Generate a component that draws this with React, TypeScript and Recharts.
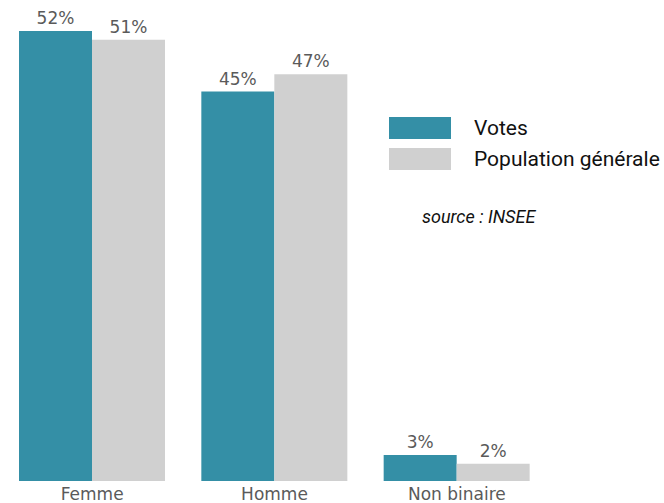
import { BarChart, Bar, XAxis, YAxis, LabelList } from 'recharts';

const categories = ['Femme', 'Homme', 'Non binaire'];
const votes = [52, 45, 3];
const population = [51, 47, 2];

const data = categories.map((name, i) => ({
  name,
  votes: votes[i],
  population: population[i],
}));

const TEAL = '#348fa6';
const GREY = '#d0d0d0';
const LABEL_FONT = { fill: '#5a5a5a', fontSize: 17, fontFamily: 'DejaVu Sans, sans-serif' };

const legendItems = [
  { label: 'Votes', color: TEAL },
  { label: 'Population générale', color: GREY },
];

function LegendBox() {
  return (
    <div
      style={{
        position: 'absolute',
        left: 389,
        top: 112,
        width: 275,
        fontFamily: 'Roboto, sans-serif',
      }}
    >
      {legendItems.map((it) => (
        <div key={it.label} style={{ display: 'flex', alignItems: 'center', height: 31 }}>
          <div style={{ width: 62, height: 22, background: it.color }} />
          <span style={{ marginLeft: 23, fontSize: 21, color: '#111', whiteSpace: 'nowrap' }}>
            {it.label}
          </span>
        </div>
      ))}
      <div
        style={{
          marginTop: 32,
          marginLeft: 33,
          fontSize: 18,
          fontStyle: 'italic',
          color: '#111',
        }}
      >
        source : INSEE
      </div>
    </div>
  );
}

export default function App() {
  return (
    <div style={{ position: 'absolute', left: 0, top: 0, width: 664, height: 503, background: '#fff' }}>
      <BarChart
        width={664}
        height={503}
        data={data}
        margin={{ top: 31, right: 116, bottom: 0, left: 1 }}
        barCategoryGap={18}
        barGap={0}
      >
        <XAxis
          dataKey="name"
          axisLine={false}
          tickLine={false}
          tickSize={0}
          tickMargin={7}
          height={22}
          tick={LABEL_FONT}
          interval={0}
        />
        <YAxis hide domain={[0, 52]} />
        <Bar dataKey="votes" name="Votes" fill={TEAL} isAnimationActive={false}>
          <LabelList
            dataKey="votes"
            position="top"
            offset={7}
            formatter={(v: number) => `${v}%`}
            style={LABEL_FONT}
          />
        </Bar>
        <Bar dataKey="population" name="Population générale" fill={GREY} isAnimationActive={false}>
          <LabelList
            dataKey="population"
            position="top"
            offset={7}
            formatter={(v: number) => `${v}%`}
            style={LABEL_FONT}
          />
        </Bar>
      </BarChart>
      <LegendBox />
    </div>
  );
}
